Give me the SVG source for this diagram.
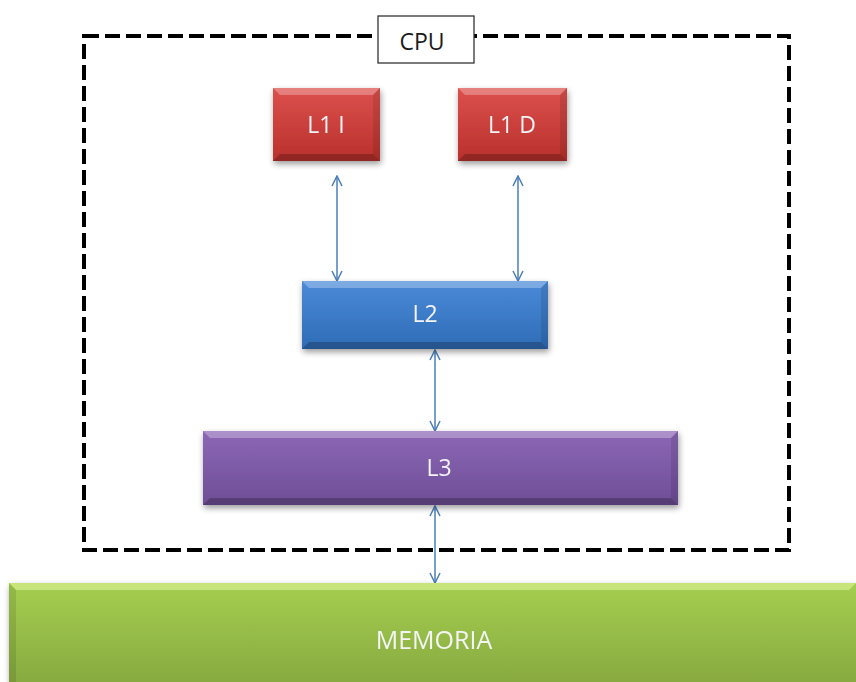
<svg xmlns="http://www.w3.org/2000/svg" width="856" height="682" viewBox="0 0 856 682">
  <defs>
    <style>
      .lbl { font-family: "Open Sans", "Liberation Sans", sans-serif; font-size: 23px; fill: #f4f4f8; text-anchor: middle; dominant-baseline: central; }
      .big { font-size: 25px; }
      .cpu { font-family: "Open Sans", "Liberation Sans", sans-serif; font-size: 23px; fill: #1a1a1a; text-anchor: middle; dominant-baseline: central; }
      .link { stroke: #4a7ebb; stroke-width: 1.5; fill: none; marker-start: url(#head); marker-end: url(#head); }
      .hi { fill: #ffffff; opacity: 0.28; }
      .lo { fill: #000000; opacity: 0.22; }
      .side { fill: #000000; opacity: 0.1; }
    </style>
    <marker id="head" viewBox="0 0 12 12" refX="11" refY="6" markerWidth="12" markerHeight="12" markerUnits="userSpaceOnUse" orient="auto-start-reverse">
      <path d="M1,1 L11,6 L1,11" fill="none" stroke="#4a7ebb" stroke-width="1.5"/>
    </marker>
    <filter id="shadow" x="-10%" y="-20%" width="120%" height="150%">
      <feGaussianBlur in="SourceAlpha" stdDeviation="3"/>
      <feOffset dx="1" dy="3" result="b"/>
      <feComponentTransfer><feFuncA type="linear" slope="0.4"/></feComponentTransfer>
      <feMerge><feMergeNode/><feMergeNode in="SourceGraphic"/></feMerge>
    </filter>
    <linearGradient id="gRed" x1="0" y1="0" x2="0" y2="1">
      <stop offset="0" stop-color="#dc504d"/>
      <stop offset="1" stop-color="#b9302c"/>
    </linearGradient>
    <linearGradient id="gBlue" x1="0" y1="0" x2="0" y2="1">
      <stop offset="0" stop-color="#4a8ad8"/>
      <stop offset="1" stop-color="#2f6cb6"/>
    </linearGradient>
    <linearGradient id="gPurple" x1="0" y1="0" x2="0" y2="1">
      <stop offset="0" stop-color="#8c67b6"/>
      <stop offset="1" stop-color="#6e4e96"/>
    </linearGradient>
    <linearGradient id="gGreen" x1="0" y1="0" x2="0" y2="1">
      <stop offset="0" stop-color="#a5cf50"/>
      <stop offset="1" stop-color="#88aa40"/>
    </linearGradient>
  </defs>

  <rect width="856" height="682" fill="#ffffff"/>

  <!-- CPU boundary -->
  <g id="cpu">
    <rect x="84" y="36" width="705" height="514" fill="none" stroke="#000" stroke-width="4" stroke-dasharray="15,6"/>
    <rect x="378" y="16" width="96" height="47" fill="#ffffff" stroke="#333" stroke-width="1.3"/>
    <text class="cpu" x="422" y="41">CPU</text>
  </g>

  <!-- connectors -->
  <g id="connectors">
    <line class="link" x1="337" y1="176" x2="337" y2="281"/>
    <line class="link" x1="518" y1="176" x2="518" y2="281"/>
    <line class="link" x1="435" y1="350" x2="435" y2="431"/>
    <line class="link" x1="435" y1="506" x2="435" y2="583"/>
  </g>

  <g id="l1i" filter="url(#shadow)">
    <rect x="273" y="88" width="107" height="73" fill="url(#gRed)"/>
    <polygon class="hi" points="273,88 380,88 373,95 280,95"/>
    <polygon class="lo" points="273,161 380,161 373,154 280,154"/>
    <polygon class="side" points="380,88 380,161 373,154 373,95"/>
    <text class="lbl" x="326" y="124">L1 I</text>
  </g>

  <g id="l1d" filter="url(#shadow)">
    <rect x="458" y="88" width="109" height="73" fill="url(#gRed)"/>
    <polygon class="hi" points="458,88 567,88 560,95 465,95"/>
    <polygon class="lo" points="458,161 567,161 560,154 465,154"/>
    <polygon class="side" points="567,88 567,161 560,154 560,95"/>
    <text class="lbl" x="512" y="124">L1 D</text>
  </g>

  <g id="l2" filter="url(#shadow)">
    <rect x="302" y="281" width="246" height="68" fill="url(#gBlue)"/>
    <polygon class="hi" points="302,281 548,281 541,288 309,288"/>
    <polygon class="lo" points="302,349 548,349 541,342 309,342"/>
    <polygon class="side" points="548,281 548,349 541,342 541,288"/>
    <text class="lbl" x="425" y="313">L2</text>
  </g>

  <g id="l3" filter="url(#shadow)">
    <rect x="203" y="431" width="475" height="74" fill="url(#gPurple)"/>
    <polygon class="hi" points="203,431 678,431 671,438 210,438"/>
    <polygon class="lo" points="203,505 678,505 671,498 210,498"/>
    <polygon class="side" points="678,431 678,505 671,498 671,438"/>
    <text class="lbl" x="439" y="467">L3</text>
  </g>

  <g id="memoria" filter="url(#shadow)">
    <rect x="9" y="583" width="847" height="99" fill="url(#gGreen)"/>
    <polygon points="9,583 856,583 849,590 16,590" fill="#e6f7a0" opacity="0.55"/>
    <polygon class="side" points="9,583 16,590 16,682 9,682"/>
    <text class="lbl big" x="434" y="639">MEMORIA</text>
  </g>
</svg>
